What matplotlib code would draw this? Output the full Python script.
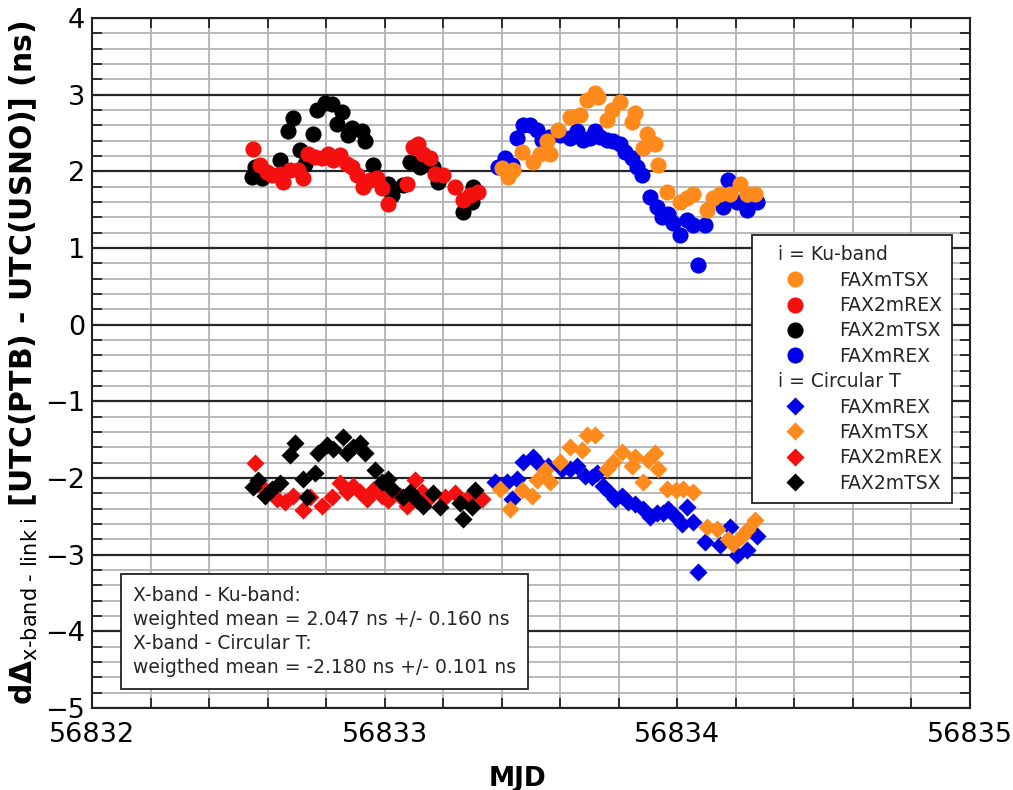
import matplotlib
matplotlib.use('Agg')
import matplotlib.pyplot as plt
import matplotlib.text as mtext
from matplotlib.ticker import MultipleLocator

plt.rcParams['font.family'] = 'DejaVu Sans'
plt.rcParams['mathtext.fontset'] = 'dejavusans'

TEXT_COLOR = '#262626'

# ---- i = Ku-band (circles) ----
ku_fax2mtsx_mjd = [56832.546, 56832.557, 56832.580, 56832.642, 56832.671, 56832.688,
                   56832.711, 56832.728, 56832.756, 56832.768, 56832.796, 56832.819,
                   56832.836, 56832.853, 56832.876, 56832.887, 56832.922, 56832.933,
                   56832.961, 56833.012, 56833.024, 56833.064, 56833.087, 56833.121,
                   56833.166, 56833.183, 56833.269, 56833.297, 56833.303]
ku_fax2mtsx_val = [1.93, 2.06, 1.91, 2.15, 2.52, 2.70,
                   2.28, 2.10, 2.49, 2.80, 2.89, 2.88,
                   2.62, 2.78, 2.47, 2.56, 2.52, 2.39,
                   2.08, 1.84, 1.69, 1.82, 2.12, 2.06,
                   2.06, 1.86, 1.47, 1.60, 1.80]

ku_fax2mrex_mjd = [56832.551, 56832.574, 56832.597, 56832.614, 56832.642, 56832.654,
                   56832.677, 56832.705, 56832.722, 56832.739, 56832.762, 56832.785,
                   56832.807, 56832.825, 56832.847, 56832.870, 56832.887, 56832.904,
                   56832.927, 56832.950, 56832.973, 56832.990, 56833.012, 56833.075,
                   56833.098, 56833.115, 56833.132, 56833.155, 56833.172, 56833.200,
                   56833.240, 56833.269, 56833.292, 56833.320]
ku_fax2mrex_val = [2.29, 2.08, 1.99, 1.95, 1.97, 1.86,
                   2.02, 2.02, 1.91, 2.23, 2.19, 2.17,
                   2.22, 2.15, 2.21, 2.10, 2.06, 1.95,
                   1.80, 1.89, 1.91, 1.78, 1.58, 1.84,
                   2.32, 2.36, 2.23, 2.17, 1.97, 1.95,
                   1.80, 1.62, 1.69, 1.73]

ku_faxmrex_mjd = [56833.388, 56833.411, 56833.434, 56833.451, 56833.474, 56833.497,
                  56833.520, 56833.537, 56833.562, 56833.599, 56833.633, 56833.656,
                  56833.679, 56833.702, 56833.719, 56833.736, 56833.759, 56833.781,
                  56833.804, 56833.821, 56833.844, 56833.861, 56833.878, 56833.907,
                  56833.930, 56833.947, 56833.969, 56833.986, 56834.009, 56834.032,
                  56834.055, 56834.072, 56834.095, 56834.157, 56834.174, 56834.203,
                  56834.237, 56834.271]
ku_faxmrex_val = [2.06, 2.17, 2.08, 2.43, 2.60, 2.60,
                  2.54, 2.41, 2.45, 2.47, 2.43, 2.52,
                  2.41, 2.43, 2.52, 2.45, 2.41, 2.39,
                  2.36, 2.25, 2.17, 2.06, 1.95, 1.67,
                  1.54, 1.41, 1.45, 1.32, 1.17, 1.36,
                  1.30, 0.78, 1.30, 1.54, 1.89, 1.60,
                  1.49, 1.60]

ku_faxmtsx_mjd = [56833.400, 56833.423, 56833.440, 56833.468, 56833.508, 56833.531,
                  56833.554, 56833.565, 56833.593, 56833.633, 56833.667, 56833.690,
                  56833.719, 56833.730, 56833.759, 56833.776, 56833.804, 56833.844,
                  56833.855, 56833.884, 56833.895, 56833.924, 56833.935, 56833.964,
                  56834.009, 56834.032, 56834.055, 56834.100, 56834.123, 56834.146,
                  56834.180, 56834.214, 56834.237, 56834.265]
ku_faxmtsx_val = [2.04, 1.93, 2.02, 2.25, 2.12, 2.23,
                  2.39, 2.23, 2.54, 2.71, 2.73, 2.93,
                  3.02, 2.97, 2.67, 2.80, 2.91, 2.65,
                  2.76, 2.30, 2.49, 2.36, 2.08, 1.73,
                  1.60, 1.65, 1.71, 1.49, 1.65, 1.71,
                  1.71, 1.84, 1.71, 1.71]

# ---- i = Circular T (diamonds) ----
ct_faxmrex_mjd = [56833.377, 56833.417, 56833.434, 56833.451, 56833.474, 56833.508,
                  56833.525, 56833.559, 56833.605, 56833.633, 56833.656, 56833.685,
                  56833.707, 56833.724, 56833.747, 56833.770, 56833.787, 56833.810,
                  56833.832, 56833.855, 56833.884, 56833.907, 56833.930, 56833.952,
                  56833.969, 56833.992, 56834.015, 56834.032, 56834.055, 56834.072,
                  56834.095, 56834.146, 56834.180, 56834.203, 56834.237, 56834.271]
ct_faxmrex_val = [-2.05, -2.05, -2.27, -2.01, -1.79, -1.73,
                  -1.81, -1.84, -1.88, -1.88, -1.84, -1.97,
                  -1.99, -1.94, -2.10, -2.20, -2.27, -2.23,
                  -2.31, -2.34, -2.40, -2.51, -2.46, -2.46,
                  -2.40, -2.49, -2.60, -2.38, -2.57, -3.23,
                  -2.84, -2.88, -2.64, -3.01, -2.94, -2.75]

ct_faxmtsx_mjd = [56833.394, 56833.428, 56833.468, 56833.502, 56833.520, 56833.548,
                  56833.565, 56833.599, 56833.633, 56833.673, 56833.690, 56833.719,
                  56833.759, 56833.781, 56833.810, 56833.844, 56833.855, 56833.884,
                  56833.901, 56833.924, 56833.935, 56833.964, 56833.997, 56834.020,
                  56834.055, 56834.100, 56834.134, 56834.174, 56834.191, 56834.220,
                  56834.237, 56834.265]
ct_faxmtsx_val = [-2.14, -2.40, -2.16, -2.23, -2.03, -1.90,
                  -2.05, -1.79, -1.60, -1.64, -1.44, -1.44,
                  -1.88, -1.79, -1.66, -1.84, -1.73, -2.05,
                  -1.77, -1.68, -1.88, -2.14, -2.16, -2.14,
                  -2.18, -2.64, -2.66, -2.79, -2.86, -2.75,
                  -2.68, -2.55]

ct_fax2mrex_mjd = [56832.557, 56832.580, 56832.631, 56832.659, 56832.688, 56832.722,
                   56832.745, 56832.785, 56832.819, 56832.847, 56832.870, 56832.893,
                   56832.916, 56832.939, 56832.961, 56832.990, 56833.012, 56833.052,
                   56833.075, 56833.104, 56833.127, 56833.155, 56833.206, 56833.240,
                   56833.280, 56833.332]
ct_fax2mrex_val = [-1.81, -2.12, -2.27, -2.31, -2.23, -2.42,
                   -2.25, -2.36, -2.25, -2.07, -2.18, -2.10,
                   -2.18, -2.27, -2.16, -2.23, -2.29, -2.23,
                   -2.36, -2.03, -2.18, -2.25, -2.25, -2.20,
                   -2.27, -2.27]

ct_fax2mtsx_mjd = [56832.551, 56832.568, 56832.591, 56832.614, 56832.642, 56832.677,
                   56832.694, 56832.722, 56832.734, 56832.762, 56832.773, 56832.802,
                   56832.825, 56832.859, 56832.870, 56832.893, 56832.916, 56832.933,
                   56832.967, 56832.990, 56833.012, 56833.024, 56833.064, 56833.087,
                   56833.109, 56833.132, 56833.166, 56833.189, 56833.257, 56833.269,
                   56833.297, 56833.309]
ct_fax2mtsx_val = [-2.12, -2.03, -2.23, -2.14, -2.07, -1.70,
                   -1.55, -2.01, -2.25, -1.94, -1.68, -1.57,
                   -1.62, -1.47, -1.68, -1.60, -1.55, -1.68,
                   -1.90, -2.05, -2.01, -2.14, -2.25, -2.18,
                   -2.29, -2.36, -2.20, -2.38, -2.33, -2.53,
                   -2.38, -2.16]

ORANGE = '#ff8a1c'
RED = '#f51010'
BLACK = '#000000'
BLUE = '#0000e8'

stats_text = ('X-band - Ku-band:\n'
              'weighted mean = 2.047 ns +/- 0.160 ns\n'
              'X-band - Circular T:\n'
              'weigthed mean = -2.180 ns +/- 0.101 ns')


class Header:
    def __init__(self, text):
        self.text = text


class HeaderHandler:
    # section title drawn inside the handle box of a legend row
    def legend_artist(self, legend, orig_handle, fontsize, handlebox):
        t = mtext.Text(0.85 * fontsize, 0, orig_handle.text, fontsize=fontsize,
                       color=TEXT_COLOR, ha='left', va='baseline')
        handlebox.add_artist(t)
        return t


fig = plt.figure(figsize=(10.13, 7.90), dpi=100)
ax = fig.add_axes([92 / 1013, 1 - 708 / 790, 878 / 1013, 690 / 790])

s_circ = 135
s_diam = 85
h_ku_blue = ax.scatter(ku_faxmrex_mjd, ku_faxmrex_val, s=s_circ, marker='o',
                       color=BLUE, linewidths=0, zorder=3)
h_ku_black = ax.scatter(ku_fax2mtsx_mjd, ku_fax2mtsx_val, s=s_circ, marker='o',
                        color=BLACK, linewidths=0, zorder=3)
h_ku_red = ax.scatter(ku_fax2mrex_mjd, ku_fax2mrex_val, s=s_circ, marker='o',
                      color=RED, linewidths=0, zorder=3)
h_ku_orange = ax.scatter(ku_faxmtsx_mjd, ku_faxmtsx_val, s=s_circ, marker='o',
                         color=ORANGE, linewidths=0, zorder=3)

h_ct_blue = ax.scatter(ct_faxmrex_mjd, ct_faxmrex_val, s=s_diam, marker='D',
                       color=BLUE, linewidths=0, zorder=3)
h_ct_orange = ax.scatter(ct_faxmtsx_mjd, ct_faxmtsx_val, s=s_diam, marker='D',
                         color=ORANGE, linewidths=0, zorder=3)
h_ct_red = ax.scatter(ct_fax2mrex_mjd, ct_fax2mrex_val, s=s_diam, marker='D',
                      color=RED, linewidths=0, zorder=3)
h_ct_black = ax.scatter(ct_fax2mtsx_mjd, ct_fax2mtsx_val, s=s_diam, marker='D',
                        color=BLACK, linewidths=0, zorder=3)

ax.set_xlim(56832, 56835)
ax.set_ylim(-5, 4)
ax.xaxis.set_major_locator(MultipleLocator(1))
ax.xaxis.set_minor_locator(MultipleLocator(0.2))
ax.yaxis.set_major_locator(MultipleLocator(1))
ax.yaxis.set_minor_locator(MultipleLocator(0.2))
ax.ticklabel_format(axis='x', useOffset=False, style='plain')

ax.set_axisbelow(True)
ax.grid(which='minor', color='#b4b4b4', lw=1.3)
ax.grid(which='major', axis='x', color='#b4b4b4', lw=1.3)
ax.grid(which='major', axis='y', color='#262626', lw=1.6)

ax.tick_params(which='both', direction='in', top=True, right=True,
               length=7, width=1.3, color='#222222')
ax.tick_params(axis='x', labelsize=19.5, pad=10)
ax.tick_params(axis='y', labelsize=19.5, pad=5)
for sp in ax.spines.values():
    sp.set_linewidth(1.5)
    sp.set_color('#222222')

ax.set_xlabel('MJD', fontsize=19, fontweight='bold')
ax.xaxis.set_label_coords(0.485, -0.084)
ax.set_ylabel(r'$\mathbf{d\Delta}_{\text{x-band - link i}}$ [UTC(PTB) - UTC(USNO)] (ns)',
              fontsize=21.5, fontweight='bold')
ax.yaxis.set_label_coords(-0.059, 0.5)

handles = [Header('i = Ku-band'), h_ku_orange, h_ku_red, h_ku_black, h_ku_blue,
           Header('i = Circular T'), h_ct_blue, h_ct_orange, h_ct_red, h_ct_black]
labels = [' ', 'FAXmTSX', 'FAX2mREX', 'FAX2mTSX', 'FAXmREX',
          ' ', 'FAXmREX', 'FAXmTSX', 'FAX2mREX', 'FAX2mTSX']
leg = ax.legend(handles, labels, handler_map={Header: HeaderHandler()},
                loc='upper left', bbox_to_anchor=(0.7517, 0.6855), borderaxespad=0,
                fontsize=13.5, handlelength=3.5, handletextpad=0.6,
                labelspacing=0.34, borderpad=0.55, scatterpoints=1,
                scatteryoffsets=[0.5], fancybox=False, framealpha=1,
                edgecolor='#222222')
leg.get_frame().set_linewidth(1.3)
for t in leg.get_texts():
    t.set_color(TEXT_COLOR)

ax.text(0.2648, 0.1109, stats_text, transform=ax.transAxes, fontsize=13.5,
        ha='center', va='center', multialignment='left', linespacing=1.33,
        color=TEXT_COLOR, zorder=5,
        bbox=dict(boxstyle='square,pad=0.62', fc='white', ec='#222222', lw=1.3))

fig.savefig('out.png', dpi=100)
